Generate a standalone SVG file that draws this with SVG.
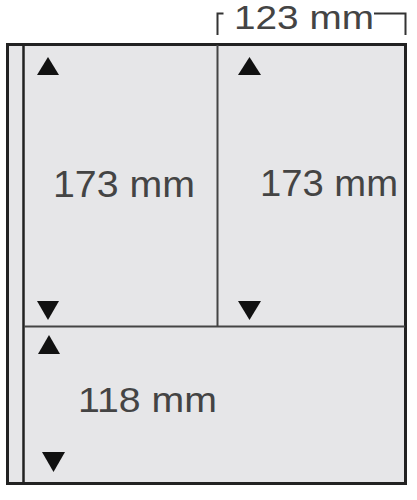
<svg xmlns="http://www.w3.org/2000/svg" width="417" height="500" viewBox="0 0 417 500">
<style>
.lbl{font-family:"Liberation Sans",Arial,sans-serif;fill:#444;}
.tri{fill:#111;}
</style>
<rect width="417" height="500" fill="#ffffff"/>
<g id="page">
<rect x="7.5" y="44.5" width="398" height="439" fill="#e6e6e8" stroke="#222" stroke-width="3"/>
<line x1="23.5" y1="44" x2="23.5" y2="484" stroke="#222" stroke-width="2.5"/>
</g>
<g id="connectors" stroke="#444" stroke-width="2" fill="none">
<line x1="217.5" y1="45" x2="217.5" y2="326.5"/>
<line x1="24" y1="326.5" x2="405" y2="326.5"/>
<path d="M217.5 35 V13.5 H223.5" stroke="#333" stroke-width="2"/>
<path d="M374 13.5 H405.5 V35" stroke="#333" stroke-width="2"/>
</g>
<g id="cell-top-left">
<polygon class="tri" points="37,75 59,75 48,57"/>
<polygon class="tri" points="37,301 59,301 48,320"/>
<text class="lbl" x="53" y="197" font-size="36" textLength="142" lengthAdjust="spacingAndGlyphs">173 mm</text>
</g>
<g id="cell-top-right">
<polygon class="tri" points="238,75 261,75 249.5,57"/>
<polygon class="tri" points="238,301 261,301 249.5,320"/>
<text class="lbl" x="260" y="196" font-size="36" textLength="138" lengthAdjust="spacingAndGlyphs">173 mm</text>
</g>
<g id="cell-bottom">
<polygon class="tri" points="38,354 60,354 49,335"/>
<polygon class="tri" points="42,452 65,452 53.5,472"/>
<text class="lbl" x="78" y="412" font-size="35" textLength="139" lengthAdjust="spacingAndGlyphs">118 mm</text>
</g>
<g id="dimension">
<text class="lbl" x="234" y="29" font-size="33" textLength="140" lengthAdjust="spacingAndGlyphs">123 mm</text>
</g>
</svg>
